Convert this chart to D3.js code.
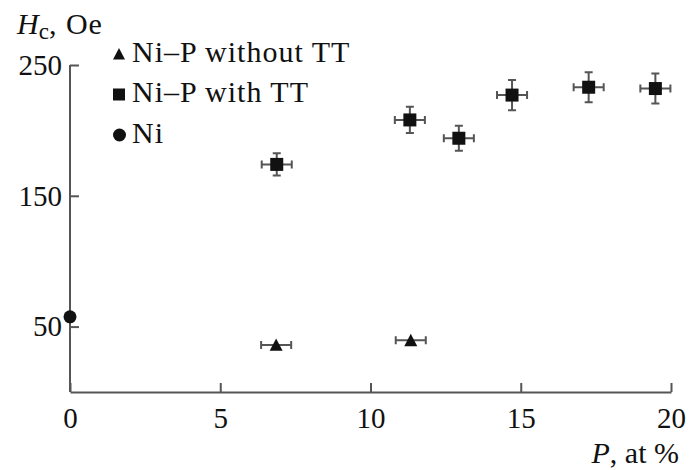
<!DOCTYPE html>
<meta charset="utf-8">
<style>
body { margin: 0; background: #fff; }
text { font-family: "Liberation Serif", "Times New Roman", serif; fill: #111; }
</style>
<body>
<script src="https://cdn.jsdelivr.net/npm/d3@7"></script>
<script>

var w = 689,
    h = 470;

// Ni-P without TT
var woX = [6.86, 11.34],
    woY = [36, 39.5],
    woXErr = [0.5, 0.5];

// Ni-P with TT
var wX = [6.88, 11.31, 12.94, 14.71, 17.26, 19.48],
    wY = [174, 208, 194, 227, 233, 232],
    wXErr = [0.5, 0.5, 0.5, 0.5, 0.5, 0.5],
    wYErr = [8.5, 10, 9.5, 11.5, 11.5, 11.5];

// pure Ni
var niX = [0],
    niY = [57.5];

var xTicks = [0, 5, 10, 15, 20],
    yTicks = [50, 150, 250];

var legendLabels = ["Ni\u2013P without TT", "Ni\u2013P with TT", "Ni"];

var fs = 29,
    axisColor = "#555";

var svg = d3.select("body").append("svg")
    .attr("width", w)
    .attr("height", h);

var x = d3.scaleLinear().domain([0, 20]).range([70, 671]),
    y = d3.scaleLinear().domain([0, 250]).range([392, 65]);

var xAxis = svg.append("g")
    .attr("transform", "translate(0," + y(0) + ")")
    .call(d3.axisBottom(x).tickValues(xTicks).tickSizeInner(-9).tickSizeOuter(0).tickPadding(15));

var yAxis = svg.append("g")
    .attr("transform", "translate(" + x(0) + ",0)")
    .call(d3.axisLeft(y).tickValues(yTicks).tickSizeInner(-9).tickSizeOuter(0).tickPadding(8));

[xAxis, yAxis].forEach(function(g) {
  g.selectAll("path, line").attr("stroke", axisColor).attr("stroke-width", 2);
  g.selectAll("text").style("font-size", fs + "px").attr("fill", "#111");
});
yAxis.select(".domain").attr("d", "M0," + y(0) + "V" + y(250));

// error bars
function errorBars(xs, ys, xe, ye) {
  var g = svg.append("g").attr("stroke", axisColor).attr("stroke-width", 2).attr("fill", "none");
  xs.forEach(function(v, i) {
    var cx = x(v), cy = y(ys[i]), cap = 4;
    if (xe) {
      var x0 = x(v - xe[i]), x1 = x(v + xe[i]);
      g.append("path").attr("d", "M" + x0 + "," + cy + "H" + x1 +
        "M" + x0 + "," + (cy - cap) + "V" + (cy + cap) +
        "M" + x1 + "," + (cy - cap) + "V" + (cy + cap));
    }
    if (ye) {
      var y0 = y(ys[i] - ye[i]), y1 = y(ys[i] + ye[i]);
      g.append("path").attr("d", "M" + cx + "," + y0 + "V" + y1 +
        "M" + (cx - cap) + "," + y0 + "H" + (cx + cap) +
        "M" + (cx - cap) + "," + y1 + "H" + (cx + cap));
    }
  });
}

errorBars(woX, woY, woXErr, null);
errorBars(wX, wY, wXErr, wYErr);

function tri(cx, cy, s) {
  return "M" + cx + "," + (cy - s * 0.5) + "L" + (cx + s * 0.5) + "," + (cy + s * 0.45) + "L" + (cx - s * 0.5) + "," + (cy + s * 0.45) + "Z";
}

svg.append("g").selectAll("path")
    .data(woX)
  .enter().append("path")
    .attr("d", function(d, i) { return tri(x(d), y(woY[i]), 13); })
    .attr("fill", "#111");

svg.append("g").selectAll("rect")
    .data(wX)
  .enter().append("rect")
    .attr("x", function(d) { return x(d) - 6.5; })
    .attr("y", function(d, i) { return y(wY[i]) - 6.5; })
    .attr("width", 13)
    .attr("height", 13)
    .attr("fill", "#111");

svg.append("g").selectAll("circle")
    .data(niX)
  .enter().append("circle")
    .attr("cx", function(d) { return x(d); })
    .attr("cy", function(d, i) { return y(niY[i]); })
    .attr("r", 6.5)
    .attr("fill", "#111");

// legend
var legend = svg.append("g");
var rowY = [61.5, 102, 143];
legend.append("path").attr("d", tri(119, 54, 12)).attr("fill", "#111");
legend.append("rect").attr("x", 113).attr("y", 88.5).attr("width", 12).attr("height", 12).attr("fill", "#111");
legend.append("circle").attr("cx", 119.5).attr("cy", 135).attr("r", 6.5).attr("fill", "#111");
legend.selectAll("text")
    .data(legendLabels)
  .enter().append("text")
    .attr("x", 132)
    .attr("y", function(d, i) { return rowY[i]; })
    .style("font-size", "30px")
    .style("letter-spacing", "1px")
    .text(function(d) { return d; });

// axis titles
var yt = svg.append("text").attr("x", 17).attr("y", 34).style("font-size", "30px");
yt.append("tspan").attr("font-style", "italic").text("H");
yt.append("tspan").attr("dy", 5).style("font-size", "23px").text("c");
yt.append("tspan").attr("dy", -5).style("letter-spacing", "1px").text(", Oe");

var xt = svg.append("text").attr("x", 679).attr("y", 463).attr("text-anchor", "end").style("font-size", "30px");
xt.append("tspan").attr("font-style", "italic").text("P");
xt.append("tspan").text(", at %");

</script>
